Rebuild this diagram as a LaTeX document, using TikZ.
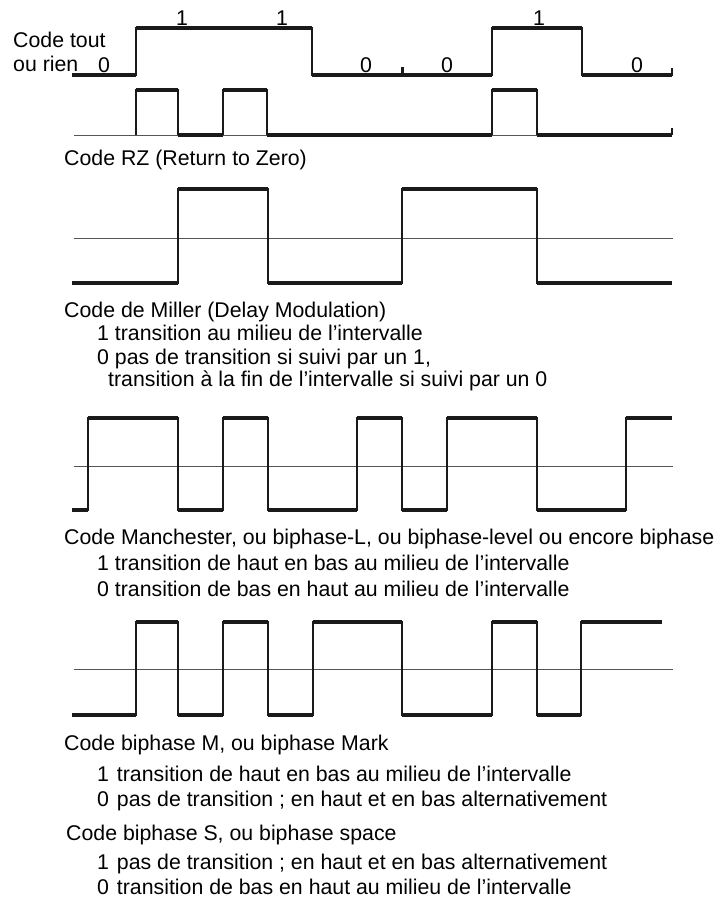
\documentclass[tikz,border=0pt]{standalone}
\usepackage{fontspec}
\setmainfont{Liberation Sans}
\definecolor{ink}{HTML}{1A1A1A}
\definecolor{midgray}{HTML}{555555}
\begin{document}
\begin{tikzpicture}[x=1pt,y=-1pt,
  txt/.style={anchor=base west, inner sep=0pt, font=\fontsize{21.3}{24}\selectfont},
  dig/.style={anchor=base, inner sep=0pt, font=\fontsize{21.3}{24}\selectfont},
  wave/.style={line width=2pt, draw=ink, line join=miter},
  hi/.style={line width=3.6pt, draw=ink},
  midline/.style={line width=1pt, draw=midgray}]
\useasboundingbox (0,0) rectangle (722,898);

% ---------- Code tout ou rien ----------
\node[txt] (t1a) at (13,47) {Code tout};
\node[txt] (t1b) at (13,71) {ou rien};
\node[dig] (d0) at (104,72) {0};
\node[dig] (d1) at (182,25) {1};
\node[dig] (d2) at (282,25) {1};
\node[dig] (d3) at (366,72) {0};
\node[dig] (d4) at (447,72) {0};
\node[dig] (d5) at (539,25) {1};
\node[dig] (d6) at (637,72) {0};
\draw[wave] (72,75) -- (136,75) -- (136,28) -- (312,28) -- (312,75) -- (492,75) -- (492,28) -- (582,28) -- (582,75) -- (672,75) -- (672,68);
\draw[hi] (72,75) -- (136,75) (136,28) -- (312,28) (312,75) -- (492,75) (492,28) -- (582,28) (582,75) -- (672,75);
\draw[line width=3pt, draw=ink] (402,75) -- (402,67);

% ---------- RZ ----------
\draw[midline] (74,135) -- (672,135);
\draw[wave] (136,135) -- (136,90) -- (178,90) -- (178,135);
\draw[wave] (223,135) -- (223,90) -- (267,90) -- (267,135);
\draw[wave] (492,135) -- (492,90) -- (537,90) -- (537,135);
\draw[wave] (672,135) -- (672,128);
\draw[hi] (136,90) -- (178,90) (178,135) -- (223,135) (223,90) -- (267,90) (267,135) -- (492,135) (492,90) -- (537,90) (537,135) -- (672,135);
\node[txt] (rz) at (64,165) {Code RZ (Return to Zero)};

% ---------- Miller ----------
\draw[midline] (74,238) -- (673,238);
\draw[wave] (72,283) -- (178,283) -- (178,189) -- (268,189) -- (268,283) -- (402,283) -- (402,189) -- (537,189) -- (537,283) -- (672,283);
\draw[hi] (72,283) -- (178,283) (178,189) -- (268,189) (268,283) -- (402,283) (402,189) -- (537,189) (537,283) -- (672,283);
\node[txt] (mi0) at (64,317.5) {Code de Miller (Delay Modulation)};
\node[txt] (mi1) at (97,340.5) {1 transition au milieu de l’intervalle};
\node[txt] (mi2) at (97,364.5) {0 pas de transition si suivi par un 1,};
\node[txt] (mi3) at (108,386.5) {transition à la fin de l’intervalle si suivi par un 0};

% ---------- Manchester ----------
\draw[midline] (74,466) -- (673,466);
\draw[wave] (72,510) -- (88,510) -- (88,418) -- (178,418) -- (178,510) -- (223,510) -- (223,418) -- (268,418) -- (268,510) -- (357,510) -- (357,418) -- (402,418) -- (402,510) -- (447,510) -- (447,418) -- (537,418) -- (537,510) -- (626,510) -- (626,418) -- (672,418);
\draw[hi] (72,510) -- (88,510) (88,418) -- (178,418) (178,510) -- (223,510) (223,418) -- (268,418) (268,510) -- (357,510) (357,418) -- (402,418) (402,510) -- (447,510) (447,418) -- (537,418) (537,510) -- (626,510) (626,418) -- (672,418);
\node[txt] (ma0) at (64,544.5) {Code Manchester, ou biphase-L, ou biphase-level ou encore biphase};
\node[txt] (ma1) at (97,570.5) {1 transition de haut en bas au milieu de l’intervalle};
\node[txt] (ma2) at (97,596.5) {0 transition de bas en haut au milieu de l’intervalle};

% ---------- Biphase ----------
\draw[midline] (74,669) -- (673,669);
\draw[wave] (72,715) -- (136,715) -- (136,622) -- (178,622) -- (178,715) -- (223,715) -- (223,622) -- (268,622) -- (268,715) -- (313,715) -- (313,622) -- (402,622) -- (402,715) -- (492,715) -- (492,622) -- (537,622) -- (537,715) -- (581,715) -- (581,622) -- (662,622);
\draw[hi] (72,715) -- (136,715) (136,622) -- (178,622) (178,715) -- (223,715) (223,622) -- (268,622) (268,715) -- (313,715) (313,622) -- (402,622) (402,715) -- (492,715) (492,622) -- (537,622) (537,715) -- (581,715) (581,622) -- (662,622);
\node[txt] (bm0) at (64,750.5) {Code biphase M, ou biphase Mark};
\node[txt] (bm1) at (97,781.5) {1\hspace{2pt} transition de haut en bas au milieu de l’intervalle};
\node[txt] (bm2) at (97,806.5) {0\hspace{2pt} pas de transition ; en haut et en bas alternativement};
\node[txt] (bs0) at (66,840.5) {Code biphase S, ou biphase space};
\node[txt] (bs1) at (97,869.5) {1\hspace{2pt} pas de transition ; en haut et en bas alternativement};
\node[txt, text depth=0pt] (bs2) at (97,894.5) {0\hspace{2pt} transition de bas en haut au milieu de l’intervalle};
\end{tikzpicture}
\end{document}
